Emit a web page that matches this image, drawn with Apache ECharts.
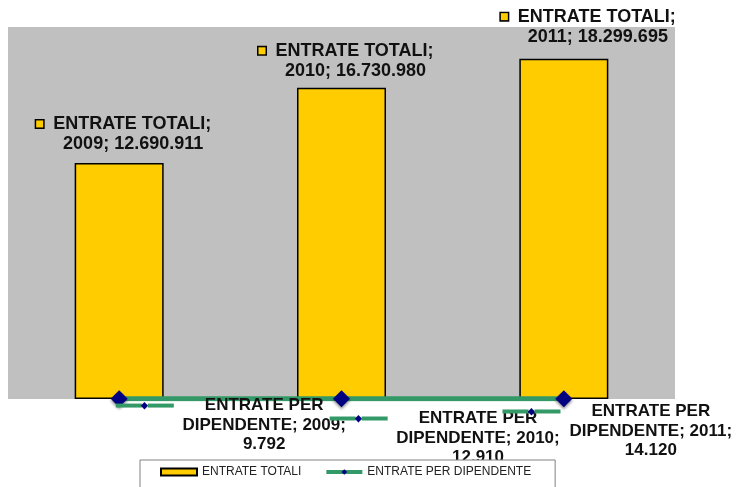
<!DOCTYPE html>
<html>
<head>
<meta charset="utf-8">
<script src="https://cdn.jsdelivr.net/npm/echarts@6/dist/echarts.min.js"></script>
<style>
html,body{margin:0;padding:0;background:#fff;}
#chart{width:741px;height:487px;}
</style>
</head>
<body>
<div id="chart"></div>
<script>
// ---- data ----
const years = ['2009', '2010', '2011'];
const entrateTotali = [12690911, 16730980, 18299695];
const entratePerDipendente = [9792, 12910, 14120];
const seriesNames = ['ENTRATE TOTALI', 'ENTRATE PER DIPENDENTE'];

// ---- layout (label offsets) ----
const barLabelOffsets = [[14, -9], [14, -7], [34, -12]];
const lineLabelOffsets = [[145, -11.5], [136.5, 1.5], [87, -5.5]];

const FONT = '"Liberation Sans", Arial, sans-serif';
const fmt = v => String(v).replace(/\B(?=(\d{3})+(?!\d))/g, '.');

const chart = echarts.init(document.getElementById('chart'), null, {renderer: 'canvas'});

const barData = entrateTotali.map((v, i) => ({
  value: v,
  label: {offset: barLabelOffsets[i]}
}));
const lineData = entratePerDipendente.map((v, i) => ({
  value: v,
  label: {offset: lineLabelOffsets[i]}
}));

chart.setOption({
  animation: false,
  backgroundColor: '#ffffff',
  grid: {
    left: 8, right: 66, top: 27, bottom: 88,
    show: true, backgroundColor: '#C0C0C0', borderWidth: 0,
    containLabel: false
  },
  xAxis: {
    type: 'category', data: years, boundaryGap: true,
    axisLine: {show: false}, axisTick: {show: false}, axisLabel: {show: false},
    splitLine: {show: false}
  },
  yAxis: {
    type: 'value', min: 0, max: 20000000,
    axisLine: {show: false}, axisTick: {show: false}, axisLabel: {show: false},
    splitLine: {show: false}
  },
  legend: {
    left: 140, top: 460,
    z: 100, zlevel: 1,
    padding: [6, 24, 20, 20],
    backgroundColor: '#ffffff',
    borderColor: '#808080', borderWidth: 1,
    itemWidth: 36, itemHeight: 7, itemGap: 23,
    textStyle: {fontFamily: FONT, fontSize: 12, color: '#222'},
    data: [
      {name: seriesNames[0], icon: 'rect'},
      {name: seriesNames[1], lineStyle: {width: 4}}
    ]
  },
  series: [
    {
      name: seriesNames[0],
      type: 'bar',
      data: barData,
      barWidth: 89,
      itemStyle: {color: '#FFCC00', borderColor: '#000000', borderWidth: 1.5},
      label: {
        show: true,
        position: 'top',
        distance: 0,
        fontFamily: FONT, fontSize: 18, fontWeight: 'bold', color: '#111',
        lineHeight: 20, align: 'center',
        formatter: p => '{sq|}{g1|}ENTRATE TOTALI;{g2|}\n' + p.name + '; ' + fmt(p.value),
        rich: {
          sq: {width: 7, height: 7, backgroundColor: '#FFCC00', borderColor: '#000', borderWidth: 1.5},
          g1: {width: 10},
          g2: {width: 19}
        }
      },
      z: 2
    },
    {
      name: seriesNames[1],
      type: 'line',
      data: lineData,
      symbol: 'diamond',
      symbolSize: 17,
      lineStyle: {color: '#339966', width: 5},
      itemStyle: {color: '#000080', shadowBlur: 3, shadowColor: 'rgba(0,0,0,0.45)', shadowOffsetY: 2},
      label: {
        show: true,
        position: 'bottom',
        distance: 0,
        fontFamily: FONT, fontSize: 17, fontWeight: 'bold', color: '#111',
        lineHeight: 19.5, align: 'center',
        formatter: p => '{gl|}{dm|◆}{gl|}{gp|}ENTRATE PER{bl|}\nDIPENDENTE; ' + p.name + ';\n' + fmt(p.value),
        rich: {
          gl: {width: 26, height: 4, backgroundColor: '#339966'},
          dm: {fontSize: 9, color: '#000080', width: 6, align: 'center'},
          gp: {width: 31},
          bl: {width: 89}
        }
      },
      z: 3
    }
  ]
});
</script>
</body>
</html>
